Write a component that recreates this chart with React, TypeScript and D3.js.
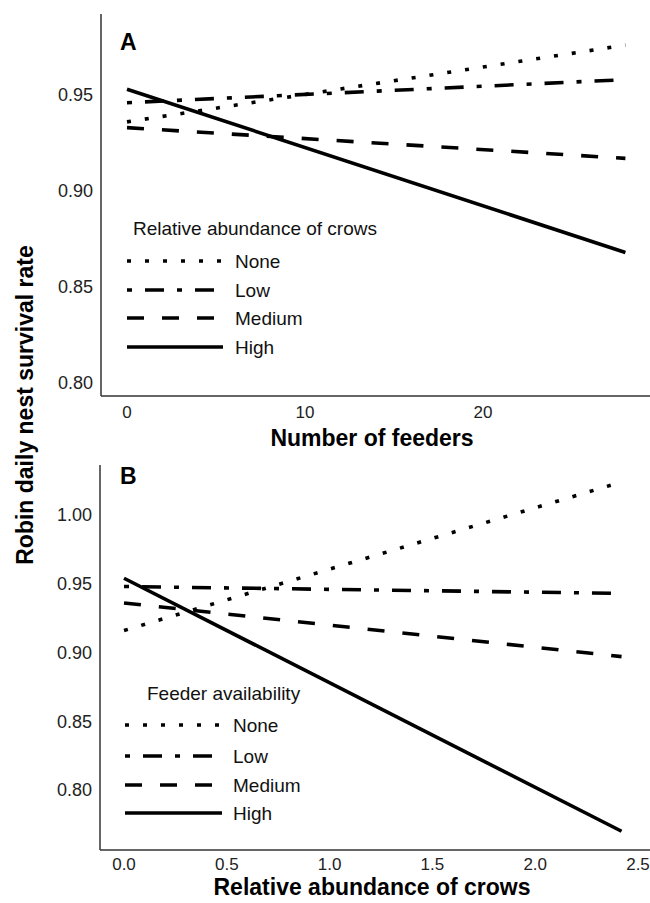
import { useRef, useEffect } from "react";
import * as d3 from "d3";

// panel A: survival vs number of feeders, one line per crow level
const feedersA = [0, 28];
const seriesA = [
    { name: "None", values: [0.936, 0.976] },
    { name: "Low", values: [0.946, 0.958] },
    { name: "Medium", values: [0.933, 0.917] },
    { name: "High", values: [0.953, 0.868] },
];
const xTicksA = [0, 10, 20];
const yTicksA = [0.8, 0.85, 0.9, 0.95];

// panel B: survival vs crow abundance, one line per feeder level
const crowsB = [0, 2.42];
const seriesB = [
    { name: "None", values: [0.916, 1.024] },
    { name: "Low", values: [0.948, 0.943] },
    { name: "Medium", values: [0.936, 0.897] },
    { name: "High", values: [0.954, 0.77] },
];
const xTicksB = [0, 0.5, 1, 1.5, 2, 2.5];
const yTicksB = [0.8, 0.85, 0.9, 0.95, 1.0];

const dashes: Record<string, string | null> = {
    None: "4 14",
    Low: "5 13 19 13",
    Medium: "17 18",
    High: null,
};

const W = 650;
const H = 903;
const FONT = "Arial, 'Liberation Sans', sans-serif";

interface PanelCfg {
    letter: string;
    xs: number[];
    series: { name: string; values: number[] }[];
    xTicks: number[];
    yTicks: number[];
    xFmt: (d: number) => string;
    x: d3.ScaleLinear<number, number>;
    y: d3.ScaleLinear<number, number>;
    axisX: number;
    top: number;
    bottom: number;
    xTitle: string;
    xTitleY: number;
    tickY: number;
    letterY: number;
    legendTitle: string;
    legendTitleX: number;
    legendTitleY: number;
    legendRows: number[];
    legendX0: number;
    legendX1: number;
    legendLabelX: number;
}

const App: React.FC = () => {
    const svgRef = useRef<SVGSVGElement | null>(null);

    useEffect(() => {
        if (!svgRef.current) return;
        const svg = d3.select(svgRef.current);
        svg.selectAll("*").remove();

        const panels: PanelCfg[] = [
            {
                letter: "A",
                xs: feedersA,
                series: seriesA,
                xTicks: xTicksA,
                yTicks: yTicksA,
                xFmt: d3.format("d"),
                x: d3.scaleLinear().domain([0, 20]).range([127, 483]),
                y: d3.scaleLinear().domain([0.8, 0.95]).range([383, 95]),
                axisX: 101,
                top: 14,
                bottom: 396,
                xTitle: "Number of feeders",
                xTitleY: 446,
                tickY: 412,
                letterY: 50,
                legendTitle: "Relative abundance of crows",
                legendTitleX: 133,
                legendTitleY: 235,
                legendRows: [261, 290, 318, 347],
                legendX0: 127,
                legendX1: 223,
                legendLabelX: 235,
            },
            {
                letter: "B",
                xs: crowsB,
                series: seriesB,
                xTicks: xTicksB,
                yTicks: yTicksB,
                xFmt: d3.format(".1f"),
                x: d3.scaleLinear().domain([0, 2.5]).range([124, 638]),
                y: d3.scaleLinear().domain([0.8, 1.0]).range([790, 515]),
                axisX: 100,
                top: 465,
                bottom: 850,
                xTitle: "Relative abundance of crows",
                xTitleY: 895,
                tickY: 864,
                letterY: 484,
                legendTitle: "Feeder availability",
                legendTitleX: 147,
                legendTitleY: 700,
                legendRows: [725, 756, 785, 813],
                legendX0: 125,
                legendX1: 222,
                legendLabelX: 233,
            },
        ];

        panels.forEach((p) => {
            const g = svg.append("g");

            // axis frame (left + bottom only)
            g.append("line")
                .attr("x1", p.axisX).attr("x2", p.axisX)
                .attr("y1", p.top).attr("y2", p.bottom)
                .attr("stroke", "#333").attr("stroke-width", 1.5);
            g.append("line")
                .attr("x1", p.axisX).attr("x2", W)
                .attr("y1", p.bottom).attr("y2", p.bottom)
                .attr("stroke", "#333").attr("stroke-width", 1.5);

            g.selectAll(".yt")
                .data(p.yTicks)
                .join("text")
                .attr("x", p.axisX - 8)
                .attr("y", (d) => p.y(d))
                .attr("dy", "0.35em")
                .attr("text-anchor", "end")
                .attr("font-size", 18)
                .attr("fill", "#222")
                .text((d) => d3.format(".2f")(d));

            g.selectAll(".xt")
                .data(p.xTicks)
                .join("text")
                .attr("x", (d) => p.x(d))
                .attr("y", p.tickY)
                .attr("dy", "0.35em")
                .attr("text-anchor", "middle")
                .attr("font-size", 17)
                .attr("fill", "#222")
                .text((d) => p.xFmt(d));

            g.append("text")
                .attr("x", 372)
                .attr("y", p.xTitleY)
                .attr("text-anchor", "middle")
                .attr("font-size", 23)
                .attr("font-weight", "bold")
                .text(p.xTitle);

            g.append("text")
                .attr("x", 120)
                .attr("y", p.letterY)
                .attr("font-size", 23)
                .attr("font-weight", "bold")
                .text(p.letter);

            const line = d3
                .line<number>()
                .x((_d, i) => p.x(p.xs[i]))
                .y((d) => p.y(d));

            p.series.forEach((s) => {
                g.append("path")
                    .attr("d", line(s.values))
                    .attr("fill", "none")
                    .attr("stroke", "#000")
                    .attr("stroke-width", 3.6)
                    .attr("stroke-dasharray", dashes[s.name])
                    .attr("stroke-linecap", "butt");
            });

            // legend
            g.append("text")
                .attr("x", p.legendTitleX)
                .attr("y", p.legendTitleY)
                .attr("font-size", 19)
                .attr("fill", "#111")
                .text(p.legendTitle);

            p.series.forEach((s, i) => {
                const yy = p.legendRows[i];
                g.append("line")
                    .attr("x1", p.legendX0).attr("x2", p.legendX1)
                    .attr("y1", yy).attr("y2", yy)
                    .attr("stroke", "#000")
                    .attr("stroke-width", 3.6)
                    .attr("stroke-dasharray", dashes[s.name]);
                g.append("text")
                    .attr("x", p.legendLabelX)
                    .attr("y", yy)
                    .attr("dy", "0.35em")
                    .attr("font-size", 19)
                    .attr("fill", "#111")
                    .text(s.name);
            });
        });

        svg.append("text")
            .attr("transform", "translate(33,405) rotate(-90)")
            .attr("text-anchor", "middle")
            .attr("font-size", 23)
            .attr("font-weight", "bold")
            .text("Robin daily nest survival rate");
    }, []);

    return (
        <svg
            ref={svgRef}
            width={W}
            height={H}
            style={{ position: "absolute", left: 0, top: 0, background: "#fff", fontFamily: FONT }}
        />
    );
};

export default App;
